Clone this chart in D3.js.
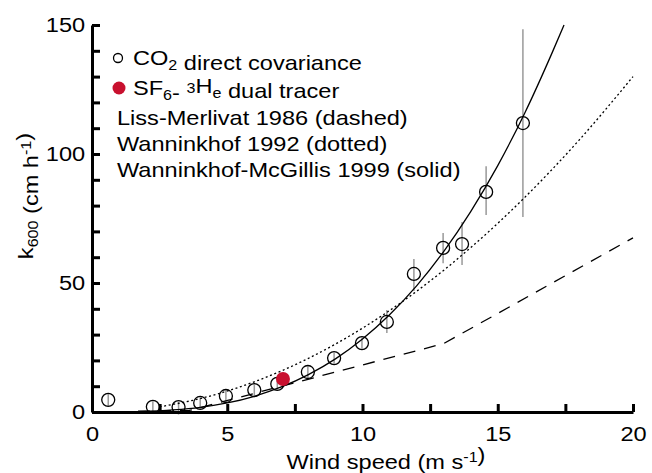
<html>
<script src="https://d3js.org/d3.v7.min.js"></script>
<style>
  body { margin: 0; background: #fff; }
  text { font-family: "Liberation Sans", Arial, sans-serif; fill: #000; }
</style>
<body>
<svg class="chart" width="652" height="473"></svg>
<script>
// CO2 direct covariance points (wind speed, k600, error bar low/high)
var covU  = [0.6, 2.25, 3.2, 4.0, 4.95, 6.0, 6.85, 7.98, 8.95, 9.98, 10.9, 11.9, 12.98, 13.68, 14.57, 15.93];
var covK  = [4.7, 2.0, 1.9, 3.5, 6.2, 8.5, 10.9, 15.5, 20.9, 26.7, 34.9, 53.5, 63.6, 65.1, 85.3, 112];
var covLo = [2.3, 0.0, 0.0, 1.3, 4.0, 6.3, 8.7, 13.3, 18.7, 24.5, 30.6, 46.9, 57.7, 57.0, 76.4, 75.6];
var covHi = [7.0, 4.2, 4.0, 5.7, 8.4, 10.7, 13.1, 17.7, 23.1, 28.9, 39.5, 59.3, 69.4, 73.6, 95.3, 148.4];

// SF6-3He dual tracer point
var tracerU = [7.06];
var tracerK = [12.8];

// curves
var wmU  = [1.7, 3, 4, 5, 6, 7, 8, 9, 10, 11, 12, 13, 14, 15, 16, 17, 17.45];
var wmK  = [0.1, 0.8, 1.8, 3.5, 6.1, 9.7, 14.5, 20.6, 28.3, 37.7, 48.9, 62.2, 77.7, 95.5, 115.9, 139, 150];
var w92U = [2.5, 4, 6, 8, 10, 12, 14, 16, 18, 20];
var w92K = [2.0, 5.2, 11.7, 20.8, 32.5, 46.8, 63.7, 83.2, 105.3, 130];
var lmU  = [1.7, 3.6, 13, 20];
var lmK  = [0.3, 0.6, 26.5, 67.5];

var xTicks = [0, 2.5, 5, 7.5, 10, 12.5, 15, 17.5, 20];
var yTicks = [0, 10, 20, 30, 40, 50, 60, 70, 80, 90, 100, 110, 120, 130, 140, 150];

var legendRows = ["Liss-Merlivat 1986 (dashed)", "Wanninkhof 1992 (dotted)", "Wanninkhof-McGillis 1999 (solid)"];

var stretch = 1.15;   // the figure's lettering is a bit wide
var fs = 20.5;

var x = d3.scaleLinear().domain([0, 20]).range([92, 633]);
var y = d3.scaleLinear().domain([0, 150]).range([412, 25]);
var svg = d3.select(".chart");

function pairs(us, ks) { return us.map(function(u, i) { return [u, ks[i]]; }); }
var line = d3.line().x(function(d) { return x(d[0]); }).y(function(d) { return y(d[1]); });

// error bars
var pts = covU.map(function(u, i) { return {u: u, k: covK[i], lo: covLo[i], hi: covHi[i]}; });
svg.append("g").selectAll("line").data(pts).enter().append("line")
  .attr("x1", function(d) { return x(d.u); }).attr("x2", function(d) { return x(d.u); })
  .attr("y1", function(d) { return y(d.lo); }).attr("y2", function(d) { return y(d.hi); })
  .attr("stroke", "#999").attr("stroke-width", 1.5);

// curves
svg.append("path").datum(pairs(lmU, lmK))
  .attr("fill", "none").attr("stroke", "#000").attr("stroke-width", 1.3)
  .attr("stroke-dasharray", "12,9").attr("d", line);
svg.append("path").datum(pairs(w92U, w92K))
  .attr("fill", "none").attr("stroke", "#000").attr("stroke-width", 1.3)
  .attr("stroke-dasharray", "2,2.6").attr("d", line.curve(d3.curveMonotoneX));
svg.append("path").datum(pairs(wmU, wmK))
  .attr("fill", "none").attr("stroke", "#000").attr("stroke-width", 1.3)
  .attr("d", line.curve(d3.curveMonotoneX));

// open circles
svg.append("g").selectAll("circle").data(pts).enter().append("circle")
  .attr("cx", function(d) { return x(d.u); }).attr("cy", function(d) { return y(d.k); })
  .attr("r", 6.5).attr("fill", "none").attr("stroke", "#000").attr("stroke-width", 1.3);

// dual tracer
svg.append("g").selectAll("circle").data(pairs(tracerU, tracerK)).enter().append("circle")
  .attr("cx", function(d) { return x(d[0]); }).attr("cy", function(d) { return y(d[1]); })
  .attr("r", 7).attr("fill", "#c8102e");

// axes
var xAxis = svg.append("g").attr("transform", "translate(0,412)")
  .call(d3.axisBottom(x).tickValues(xTicks).tickSizeInner(-8).tickSizeOuter(0).tickPadding(14)
    .tickFormat(function(d) { return d % 5 === 0 ? d : ""; }));
var yAxis = svg.append("g").attr("transform", "translate(92,0)")
  .call(d3.axisLeft(y).tickValues(yTicks).tickSizeInner(-8).tickSizeOuter(0).tickPadding(6)
    .tickFormat(function(d) { return d % 50 === 0 ? d : ""; }));
[xAxis, yAxis].forEach(function(a) {
  a.selectAll("path, line").attr("stroke", "#000").attr("stroke-width", 3);
  a.selectAll("text").attr("font-size", fs).attr("font-family", null).attr("fill", "#000")
    .attr("transform", "scale(" + stretch + ",1)");
});

function label(px, py, anchor) {
  return svg.append("text").attr("font-size", fs).attr("text-anchor", anchor || "start")
    .attr("transform", "translate(" + px + "," + py + ") scale(" + stretch + ",1)");
}
function sub(t, s) { t.append("tspan").attr("font-size", 14).attr("dy", 5).text(s); t.append("tspan").attr("dy", -5).text(""); }
function sup(t, s) { t.append("tspan").attr("font-size", 14).attr("dy", -7).text(s); t.append("tspan").attr("dy", 7).text(""); }

// legend
svg.append("circle").attr("cx", 118).attr("cy", 58).attr("r", 4.5)
  .attr("fill", "none").attr("stroke", "#000").attr("stroke-width", 1.3);
svg.append("circle").attr("cx", 119).attr("cy", 88).attr("r", 6.5).attr("fill", "#c8102e");

var t1 = label(133, 65);
t1.append("tspan").text("CO"); sub(t1, "2"); t1.append("tspan").text(" direct covariance");

var t2 = label(133, 95);
t2.append("tspan").text("SF"); sub(t2, "6"); t2.append("tspan").text("- ");
sup(t2, "3"); t2.append("tspan").text("H"); sub(t2, "e"); t2.append("tspan").text(" dual tracer");

var rowY = [125, 151, 177];
legendRows.forEach(function(s, i) { label(117, rowY[i]).text(s); });

// axis titles
var xt = label(386, 469, "middle");
xt.append("tspan").text("Wind speed (m s"); sup(xt, "-1"); xt.append("tspan").text(")");

var yt = svg.append("text").attr("font-size", fs).attr("text-anchor", "middle")
  .attr("transform", "translate(33,196) rotate(-90) scale(" + stretch + ",1)");
yt.append("tspan").text("k"); sub(yt, "600"); yt.append("tspan").text(" (cm h"); sup(yt, "-1"); yt.append("tspan").text(")");
</script>
</body>
</html>
